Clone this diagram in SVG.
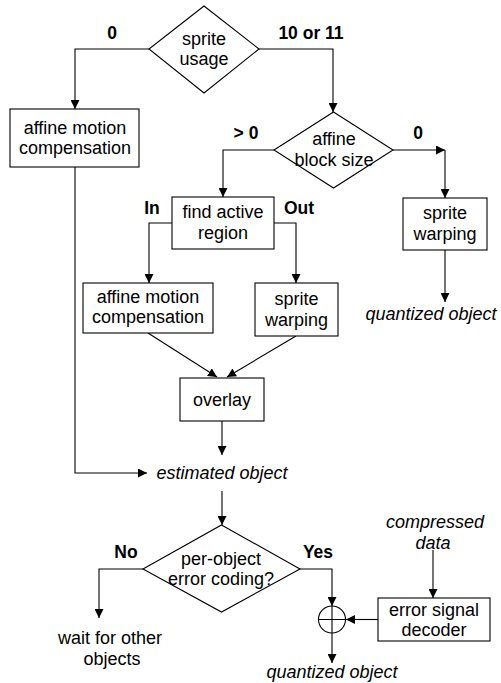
<svg xmlns="http://www.w3.org/2000/svg" width="501" height="683" viewBox="0 0 501 683">
<style>
text{font-family:"Liberation Sans",Arial,sans-serif;font-size:18px;fill:#000;text-anchor:middle}
.i{font-style:italic}
.b{font-weight:bold;font-size:17.5px}
.s{fill:#fff;stroke:#000;stroke-width:1.1}
.c{fill:none;stroke:#000;stroke-width:1.1}
.a{marker-end:url(#ah)}
</style>
<defs>
<marker id="ah" markerUnits="userSpaceOnUse" markerWidth="10" markerHeight="9" refX="9" refY="4.5" orient="auto">
<path d="M0,0 L9,4.5 L0,9 z" fill="#000"/>
</marker>
</defs>
<g id="connectors">
<path class="c a" d="M149,49 H75 V109"/>
<path class="c a" d="M259,49 H333 V112"/>
<path class="c a" d="M274,150 H223 V197"/>
<path class="c a" d="M393,150 H445"/>
<path class="c a" d="M445,150 V198"/>
<path class="c a" d="M445,250 V302"/>
<path class="c a" d="M172,223 H149 V283"/>
<path class="c a" d="M274,223 H296 V283"/>
<path class="c a" d="M148,333 L217,377"/>
<path class="c a" d="M296,336 L227,377"/>
<path class="c a" d="M222,421 V455"/>
<path class="c a" d="M75,167 V473 H147"/>
<path class="c a" d="M222,491 V525"/>
<path class="c a" d="M143,569 H99 V618"/>
<path class="c a" d="M300,569 H332 V606"/>
<path class="c a" d="M378,619.5 H346"/>
<path class="c a" d="M433,550 V598"/>
<path class="c a" d="M332,633 V663"/>
<text class="b" x="112" y="39">0</text>
<text class="b" x="311" y="39">10 or 11</text>
<text class="b" x="246" y="139">&gt; 0</text>
<text class="b" x="418" y="139">0</text>
<text class="b" x="152" y="214">In</text>
<text class="b" x="299" y="214">Out</text>
<text class="b" x="126" y="558">No</text>
<text class="b" x="318" y="558">Yes</text>
</g>
<g id="sprite-usage">
<polygon class="s" points="204,6 259,49 204,93 149,49"/>
<text x="204" y="45">sprite</text>
<text x="204" y="65">usage</text>
</g>
<g id="affine-mc-1">
<rect class="s" x="10" y="109" width="129" height="58"/>
<text x="75" y="134">affine motion</text>
<text x="75" y="154">compensation</text>
</g>
<g id="affine-block-size">
<polygon class="s" points="333.5,112 393,150 333.5,188 274,150"/>
<text x="334" y="145">affine</text>
<text x="334" y="166">block size</text>
</g>
<g id="find-active-region">
<rect class="s" x="172" y="197" width="102" height="52"/>
<text x="223" y="218">find active</text>
<text x="223" y="239">region</text>
</g>
<g id="sprite-warping-1">
<rect class="s" x="403" y="198" width="84" height="52"/>
<text x="445" y="219">sprite</text>
<text x="445" y="240">warping</text>
</g>
<g id="quantized-object-1">
<text class="i" x="431" y="320">quantized object</text>
</g>
<g id="affine-mc-2">
<rect class="s" x="83" y="283" width="130" height="50"/>
<text x="148" y="303">affine motion</text>
<text x="148" y="323">compensation</text>
</g>
<g id="sprite-warping-2">
<rect class="s" x="255" y="283" width="83" height="53"/>
<text x="296.5" y="305">sprite</text>
<text x="296.5" y="326">warping</text>
</g>
<g id="overlay">
<rect class="s" x="180" y="378" width="84" height="43"/>
<text x="222" y="406">overlay</text>
</g>
<g id="estimated-object">
<text class="i" x="222" y="479">estimated object</text>
</g>
<g id="per-object-error-coding">
<polygon class="s" points="221.5,525 300,569 221.5,612 143,569"/>
<text x="221" y="565">per-object</text>
<text x="221" y="585">error coding?</text>
</g>
<g id="wait-for-other-objects">
<text x="110" y="644">wait for other</text>
<text x="112" y="665">objects</text>
</g>
<g id="sum">
<circle class="s" cx="332" cy="619.5" r="13.5"/>
<path class="c" d="M332,606 V633 M318.5,619.5 H345.5"/>
</g>
<g id="error-signal-decoder">
<rect class="s" x="378" y="598" width="112" height="43"/>
<text x="434" y="616">error signal</text>
<text x="434" y="636">decoder</text>
</g>
<g id="compressed-data">
<text class="i" x="435" y="528">compressed</text>
<text class="i" x="433" y="549">data</text>
</g>
<g id="quantized-object-2">
<text class="i" x="332" y="678">quantized object</text>
</g>
</svg>
